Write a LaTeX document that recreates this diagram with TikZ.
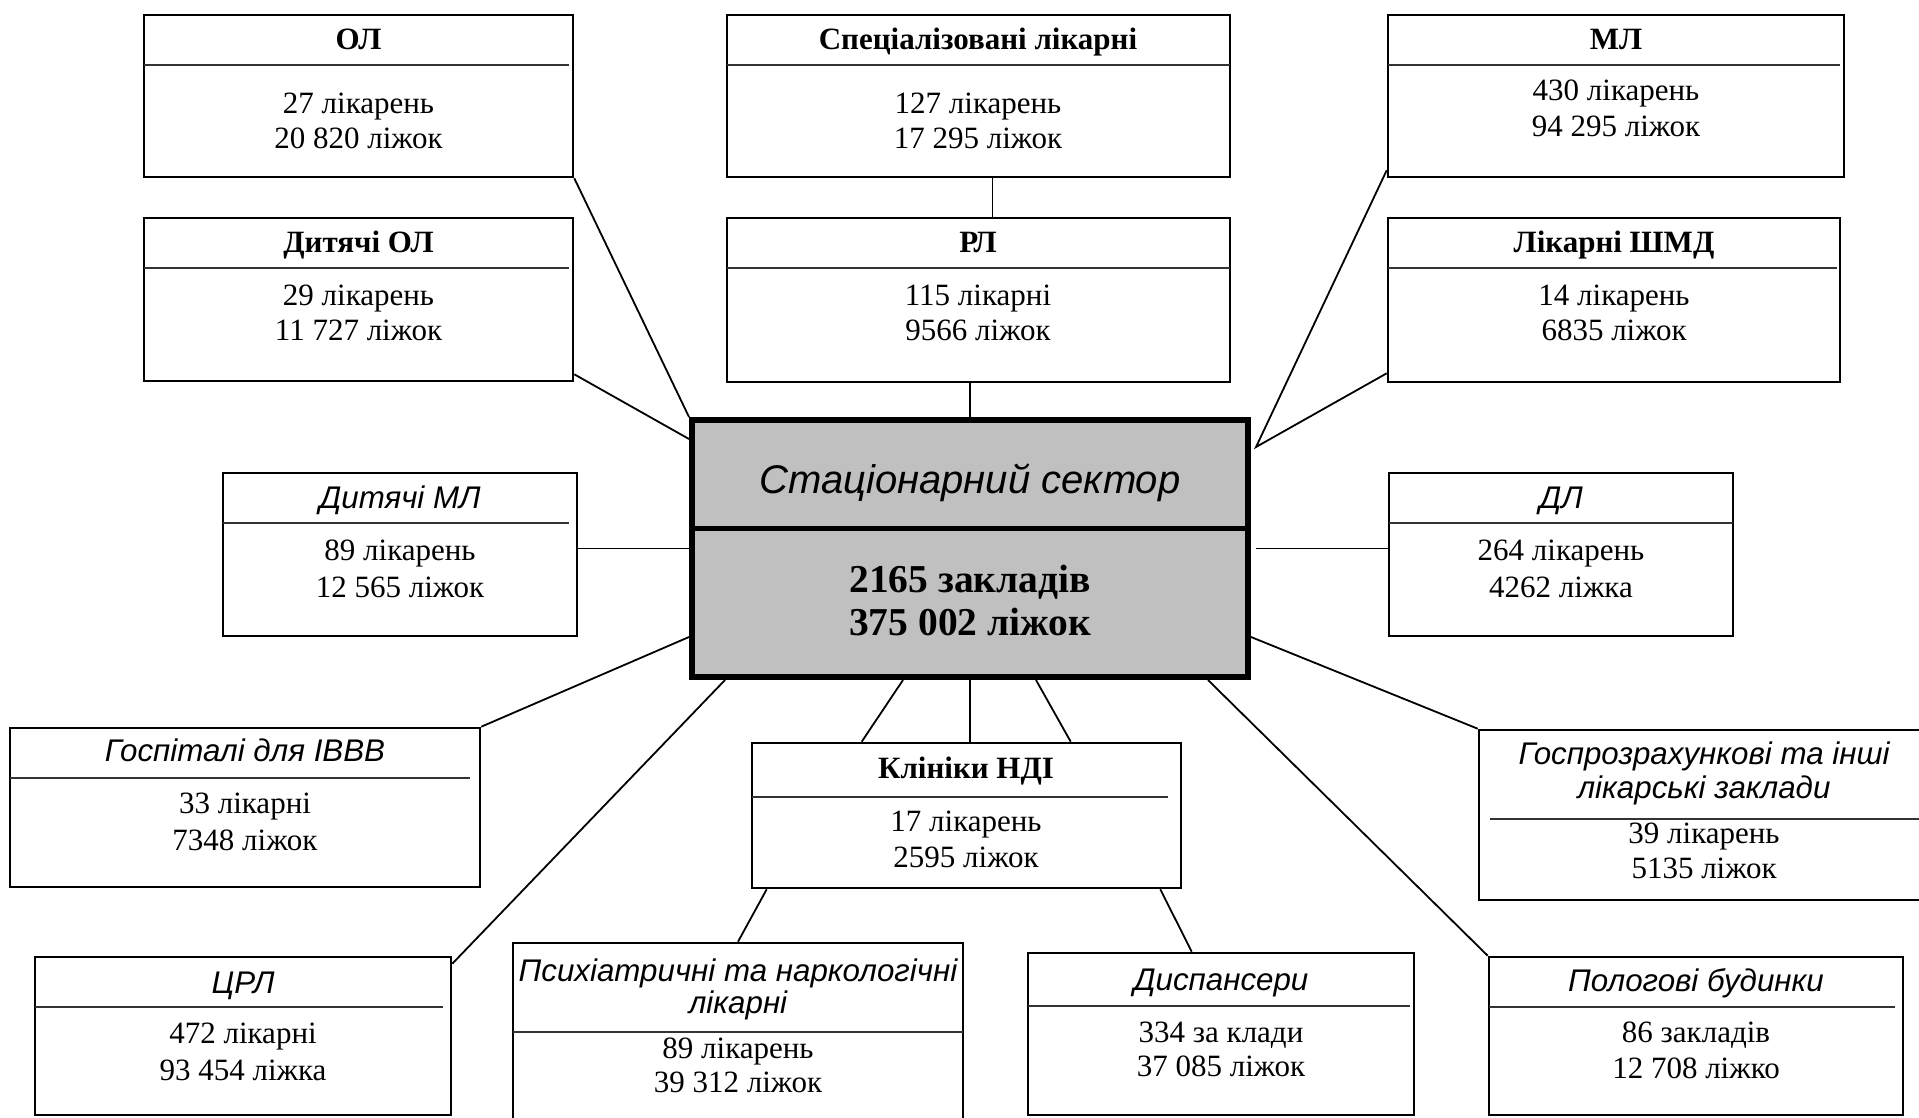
\documentclass[tikz,border=0pt]{standalone}
\usepackage{fontspec}
\setmainfont{Liberation Serif}
\newfontfamily\arialf{Liberation Sans}
\usetikzlibrary{fit,calc}
\definecolor{cgray}{HTML}{C0C0C0}
\tikzset{
  ibx/.style={draw, line width=2.6pt, inner sep=0pt},
  cbox/.style={draw, line width=6pt, fill=cgray, inner sep=0pt},
  divline/.style={draw=black!80, line width=2.2pt},
  conn/.style={line width=1.8pt},
  txt/.style={inner sep=0pt, anchor=base},
  body/.style={txt, font=\fontsize{31}{36}\selectfont},
  btitle/.style={txt, font=\fontsize{31}{36}\selectfont\bfseries},
  ititle/.style={txt, font=\arialf\itshape\fontsize{31.3}{36}\selectfont},
  ctitle/.style={txt, font=\arialf\itshape\fontsize{40}{46}\selectfont},
  cbody/.style={txt, font=\fontsize{39.5}{45}\selectfont\bfseries}
}
% name, x1, y1, x2, y2, divider y, divider x-start, divider x-end
\newcommand{\ibox}[8]{%
  \node[ibx, fit={(#2,#3) (#4,#5)}] (#1) {};
  \draw[divline] (#7,#6) -- (#8,#6);
}
\begin{document}
\begin{tikzpicture}[x=1pt,y=-1pt]
\clip (0,0) rectangle (1919,1117);
\fill[white] (0,0) rectangle (1919,1117);

% boxes
\ibox{ol}{144}{15}{573}{177}{65}{144}{569}
\ibox{sp}{727}{15}{1230}{177}{65}{727}{1230}
\ibox{ml}{1388}{15}{1844}{177}{65}{1388}{1840}
\ibox{dol}{144}{218}{573}{381}{268}{144}{569}
\ibox{rl}{727}{218}{1230}{382}{268}{727}{1230}
\ibox{shmd}{1388}{218}{1840}{382}{268}{1388}{1837}
\ibox{dml}{223}{473}{577}{636}{523}{223}{569}
\ibox{dl}{1389}{473}{1733}{636}{523}{1389}{1733}
\ibox{gos}{10}{728}{480}{887}{778}{10}{470}
\ibox{kl}{752}{743}{1181}{888}{797}{752}{1168}
\ibox{gr}{1479}{730}{1929}{900}{819}{1490}{1929}
\ibox{crl}{35}{957}{451}{1115}{1007}{35}{443}
\ibox{ps}{513}{943}{963}{1130}{1032}{513}{963}
\ibox{dis}{1028}{953}{1414}{1115}{1006}{1028}{1410}
\ibox{pol}{1489}{957}{1903}{1115}{1007}{1489}{1895}

% central box
\node[cbox, fit={(692,420) (1248,677)}] (c) {};
\draw[line width=5pt] (692,528) -- (1248,528);

% texts
\node[btitle] (olT) at (358.5,49) {ОЛ};
\node[body] (olA) at (358.5,113) {27 лікарень};
\node[body] (olB) at (358.5,148) {20 820 ліжок};

\node[btitle] (spT) at (978,49) {Спеціалізовані лікарні};
\node[body] (spA) at (978,113) {127 лікарень};
\node[body] (spB) at (978,148) {17 295 ліжок};

\node[btitle] (mlT) at (1616,49) {МЛ};
\node[body] (mlA) at (1616,100) {430 лікарень};
\node[body] (mlB) at (1616,136) {94 295 ліжок};

\node[btitle] (dolT) at (358.5,252) {Дитячі ОЛ};
\node[body] (dolA) at (358.5,305) {29 лікарень};
\node[body] (dolB) at (358.5,340) {11 727 ліжок};

\node[btitle] (rlT) at (978,252) {РЛ};
\node[body] (rlA) at (978,305) {115 лікарні};
\node[body] (rlB) at (978,340) {9566 ліжок};

\node[btitle] (shT) at (1614,252) {Лікарні ШМД};
\node[body] (shA) at (1614,305) {14 лікарень};
\node[body] (shB) at (1614,340) {6835 ліжок};

\node[ctitle] (cT) at (970,493) {Стаціонарний сектор};
\node[cbody] (cA) at (970,592) {2165 закладів};
\node[cbody] (cB) at (970,635) {375 002 ліжок};

\node[ititle] (dmlT) at (400,508) {Дитячі МЛ};
\node[body] (dmlA) at (400,560) {89 лікарень};
\node[body] (dmlB) at (400,597) {12 565 ліжок};

\node[ititle] (dlT) at (1561,508) {ДЛ};
\node[body] (dlA) at (1561,560) {264 лікарень};
\node[body] (dlB) at (1561,597) {4262 ліжка};

\node[ititle] (gosT) at (245,761) {Госпіталі для ІВВВ};
\node[body] (gosA) at (245,813) {33 лікарні};
\node[body] (gosB) at (245,850) {7348 ліжок};

\node[btitle] (klT) at (966,778) {Клініки НДІ};
\node[body] (klA) at (966,831) {17 лікарень};
\node[body] (klB) at (966,867) {2595 ліжок};

\node[ititle] (grT) at (1704,764) {Госпрозрахункові та інші};
\node[ititle] (grU) at (1704,798) {лікарські заклади};
\node[body] (grA) at (1704,843) {39 лікарень};
\node[body] (grB) at (1704,878) {5135 ліжок};

\node[ititle] (crlT) at (243,993) {ЦРЛ};
\node[body] (crlA) at (243,1043) {472 лікарні};
\node[body] (crlB) at (243,1080) {93 454 ліжка};

\node[ititle] (psT) at (738,981) {Психіатричні та наркологічні};
\node[ititle] (psU) at (738,1013) {лікарні};
\node[body] (psA) at (738,1058) {89 лікарень};
\node[body] (psB) at (738,1092) {39 312 ліжок};

\node[ititle] (disT) at (1221,990) {Диспансери};
\node[body] (disA) at (1221,1042) {334 за клади};
\node[body] (disB) at (1221,1076) {37 085 ліжок};

\node[ititle] (polT) at (1696,991) {Пологові будинки};
\node[body] (polA) at (1696,1042) {86 закладів};
\node[body] (polB) at (1696,1078) {12 708 ліжко};

% connectors
\coordinate (vR) at ($(c.north east)+(5,30)$);
\draw[conn] (ol.south east) -- (c.north west);
\draw[conn] ($(dol.south east)+(0,-8)$) -- ($(c.north west)+(0,22)$);
\draw[conn] (c.north) -- (c.north |- rl.south);
\draw[conn] ($(sp.south)+(14,0)$) -- ($(rl.north)+(14,0)$);
\draw[conn] ($(ml.south west)+(0,-8)$) -- (vR) -- ($(shmd.south west)+(0,-10)$);
\draw[conn] ($(c.east)+(5,0)$) -- (dl.west |- c.east);
\draw[conn] (c.west) -- (dml.east |- c.west);
\draw[conn] (gos.north east) -- ($(c.south west)+(0,-43)$);
\draw[conn] ($(c.south east)+(0,-43)$) -- (gr.north west);
\draw[conn] ($(c.south west)+(36,0)$) -- ($(crl.north east)+(0,8)$);
\draw[conn] ($(c.south west)+(214,0)$) -- ($(kl.north west)+(111,0)$);
\draw[conn] (c.south) -- (c.south |- kl.north);
\draw[conn] ($(c.south west)+(347,0)$) -- ($(kl.north west)+(320,0)$);
\draw[conn] ($(c.south east)+(-43,0)$) -- (pol.north west);
\draw[conn] ($(kl.south west)+(16,0)$) -- (ps.north);
\draw[conn] ($(kl.south east)+(-22,0)$) -- ($(dis.north west)+(165,0)$);
\end{tikzpicture}
\end{document}
